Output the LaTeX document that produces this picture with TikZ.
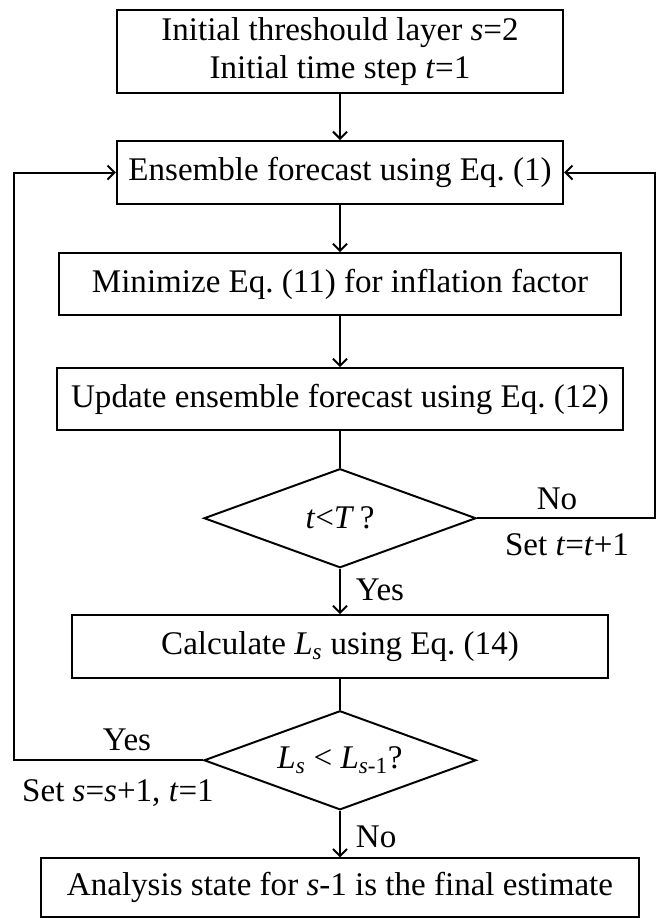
\documentclass[tikz,border=0pt]{standalone}
\usepackage{fontspec}
\setmainfont{Liberation Serif}
\usetikzlibrary{shapes.geometric,arrows.meta}
\frenchspacing

\begin{document}
\begin{tikzpicture}[-,>={Straight Barb[length=5pt,width=10pt]},x=0.025cm,y=-0.025cm,line width=1.4pt,node distance=3cm,
    box/.style={rectangle,draw,inner sep=0pt,align=center,font=\fontsize{23.5}{27}\selectfont},
    decision/.style={diamond,draw,aspect=2.8,inner sep=0pt,minimum width=6.8cm,minimum height=2.475cm,font=\fontsize{23.5}{27}\selectfont},
    note/.style={inner sep=0pt,font=\fontsize{23.5}{27}\selectfont}]

            \useasboundingbox (0,0) rectangle (657,918);

            \node[box, minimum width=11.125cm, minimum height=2.075cm] (1) at (340,51.5) {Initial threshould layer \textit{s}=2\\Initial time step \textit{t}=1};
            \node[box, minimum width=11.15cm, minimum height=1.575cm] (2) [below of = 1, node distance=3.025cm] {Ensemble forecast using Eq. (1)};
            \node[box, minimum width=14.025cm, minimum height=1.55cm] (3) [below of = 2, node distance=2.79cm] {Minimize Eq. (11) for inflation factor};
            \node[box, minimum width=14.15cm, minimum height=1.55cm] (4) [below of = 3, node distance=2.875cm] {Update ensemble forecast using Eq. (12)};
            \node[decision] (5) [below of = 4, node distance=2.975cm] {\textit{t}<\textit{T}\,?};
            \node[box, minimum width=13.375cm, minimum height=1.575cm] (6) [below of = 5, node distance=3.21cm] {Calculate \textit{L}\textsubscript{\textit{s}} using Eq. (14)};
            \node[decision] (7) [below of = 6, node distance=2.84cm] {\textit{L}\textsubscript{\textit{s}} < \textit{L}\textsubscript{\textit{s}-1}?};
            \node[box, minimum width=14.925cm, minimum height=1.475cm] (8) [below of = 7, node distance=3.19cm] {Analysis state for \textit{s}-1 is the final estimate};

            \node[note] (no1) at (557,499) {No};
            \node[note] (set1) at (567,545) {Set \textit{t}=\textit{t}+1};
            \node[note, anchor=west] (yes1) at (355,590) {Yes};
            \node[note] (yes2) at (127,740) {Yes};
            \node[note] (set2) at (118,793) {Set \textit{s}=\textit{s}+1, \textit{t}=1};
            \node[note, anchor=west] (no2) at (355,837) {No};

            \coordinate (rr) at (655,0);
            \coordinate (ll) at (14,0);

            \draw[->] (1) to (2);
            \draw[->] (2) to (3);
            \draw[->] (3) to (4);
            \draw[-] (4) to (5);
            \draw[->] (5) to (6);
            \draw[-] (6) to (7);
            \draw[->] (7) to (8);

            \draw[->] (5.east) -- (5.east -| rr) |- (2.east);
            \draw[->] (7.west) -- (7.west -| ll) |- (2.west);
        \end{tikzpicture}
\end{document}
